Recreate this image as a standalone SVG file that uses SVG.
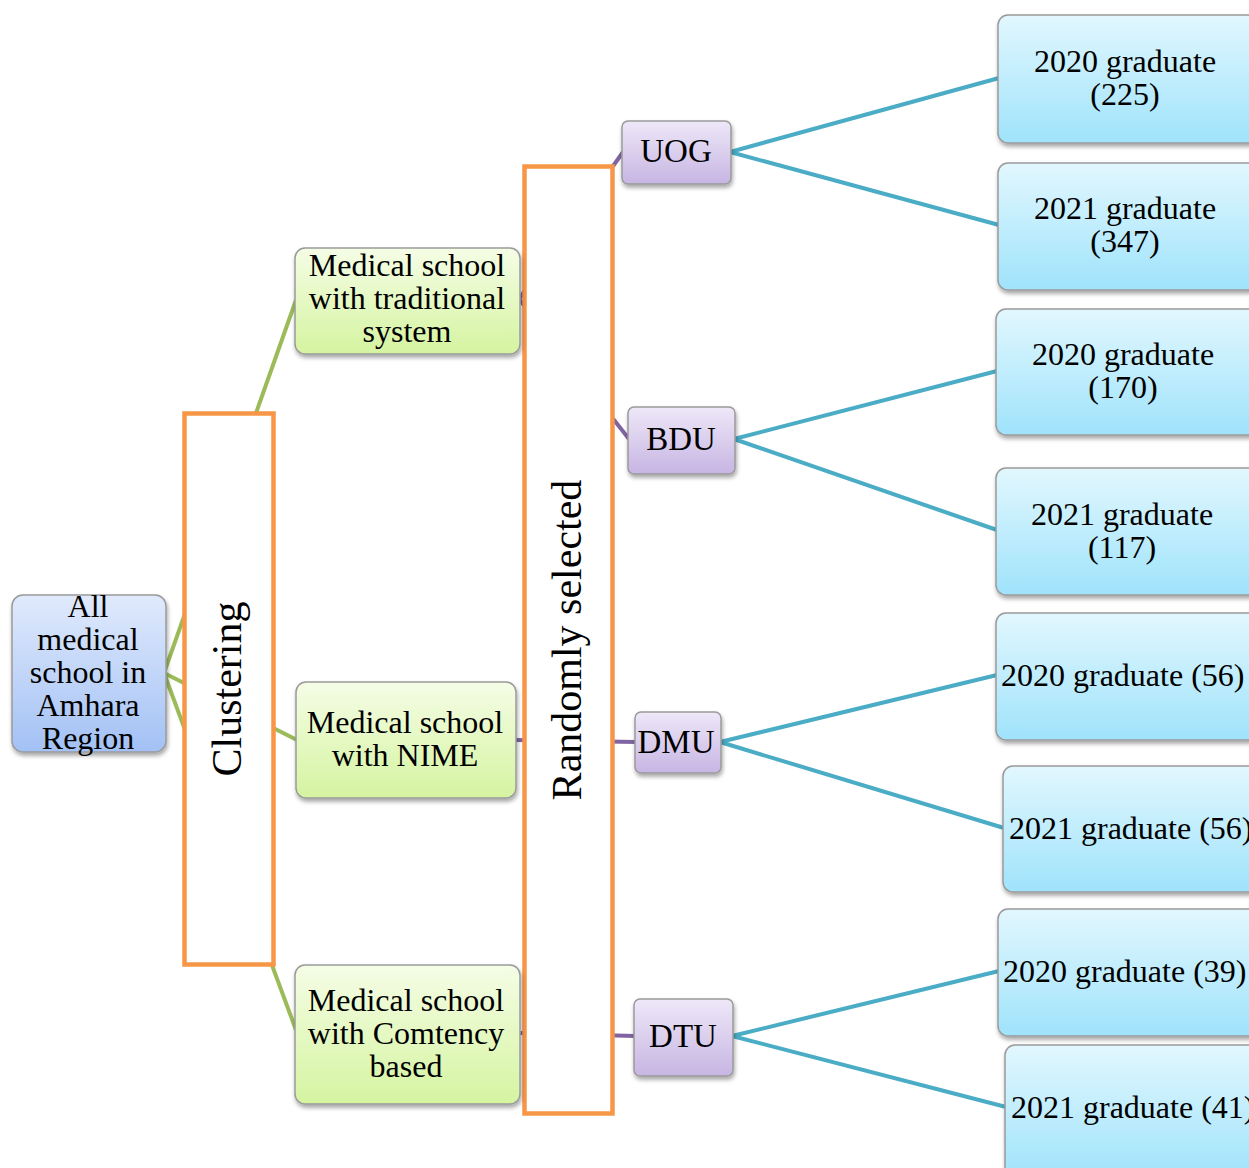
<svg xmlns="http://www.w3.org/2000/svg" width="1249" height="1168" viewBox="0 0 1249 1168">
<defs>
<linearGradient id="gBlue" x1="0" y1="0" x2="0" y2="1"><stop offset="0" stop-color="#e0eafc"/><stop offset="1" stop-color="#a3c1f5"/></linearGradient>
<linearGradient id="gGreen" x1="0" y1="0" x2="0" y2="1"><stop offset="0" stop-color="#f5fde6"/><stop offset="1" stop-color="#d5f4a0"/></linearGradient>
<linearGradient id="gPurple" x1="0" y1="0" x2="0" y2="1"><stop offset="0" stop-color="#eee8f8"/><stop offset="1" stop-color="#c7b5e3"/></linearGradient>
<linearGradient id="gCyan" x1="0" y1="0" x2="0" y2="1"><stop offset="0" stop-color="#e2f7fe"/><stop offset="1" stop-color="#9fe3fb"/></linearGradient>
<filter id="sh" x="-10%" y="-10%" width="130%" height="130%"><feDropShadow dx="1" dy="3" stdDeviation="2" flood-color="#000" flood-opacity="0.35"/></filter>
</defs>
<style>
text{font-family:"Liberation Serif","Times New Roman",serif;fill:#000}
.t{font-size:32px;text-anchor:middle}
.tl{font-size:32px}
.u{font-size:33px;text-anchor:middle}
.big{font-size:42px;text-anchor:middle}
.node{stroke:#9a9a9a;stroke-width:1.5;filter:url(#sh)}
.blue{fill:url(#gBlue)}
.green{fill:url(#gGreen)}
.purple{fill:url(#gPurple)}
.cyan{fill:url(#gCyan)}
.frame{fill:#fff;stroke:#f79646;stroke-width:4.5}
.lg{stroke:#9bbb59;stroke-width:4;fill:none}
.lp{stroke:#8064a2;stroke-width:4;fill:none}
.lc{stroke:#4bacc6;stroke-width:4;fill:none}
</style>
<rect width="1249" height="1168" fill="#fff"/>
<g id="connectors">
<line class="lg" x1="164" y1="673" x2="296" y2="300"/>
<line class="lg" x1="164" y1="673" x2="297" y2="740"/>
<line class="lg" x1="164" y1="673" x2="296" y2="1030"/>
<line class="lp" x1="519" y1="299" x2="623" y2="152"/>
<line class="lp" x1="519" y1="299" x2="629" y2="439"/>
<line class="lp" x1="515" y1="740" x2="636" y2="742"/>
<line class="lp" x1="519" y1="1033" x2="635" y2="1036"/>
<line class="lc" x1="730" y1="152" x2="999" y2="78"/>
<line class="lc" x1="730" y1="152" x2="999" y2="225"/>
<line class="lc" x1="734" y1="439" x2="997" y2="371"/>
<line class="lc" x1="734" y1="439" x2="997" y2="530"/>
<line class="lc" x1="720" y1="742" x2="997" y2="675"/>
<line class="lc" x1="720" y1="742" x2="1004" y2="828"/>
<line class="lc" x1="732" y1="1036" x2="999" y2="971"/>
<line class="lc" x1="732" y1="1036" x2="1006" y2="1107"/>
</g>
<g id="clustering">
<rect class="frame" x="184.5" y="413.5" width="89" height="551"/>
<text class="big" transform="translate(241,689) rotate(-90)">Clustering</text>
</g>
<g id="randomly">
<rect class="frame" x="524.5" y="166.5" width="88" height="947"/>
<text class="big" transform="translate(581,640) rotate(-90)">Randomly selected</text>
</g>
<g id="root">
<rect class="node blue" x="12" y="595" width="154" height="157" rx="11"/>
<text class="t" x="88" y="617">All</text>
<text class="t" x="88" y="650">medical</text>
<text class="t" x="88" y="683">school in</text>
<text class="t" x="88" y="716">Amhara</text>
<text class="t" x="88" y="749">Region</text>
</g>
<g id="traditional">
<rect class="node green" x="295" y="248" width="225" height="106" rx="10"/>
<text class="t" x="407" y="276">Medical school</text>
<text class="t" x="407" y="309">with traditional</text>
<text class="t" x="407" y="342">system</text>
</g>
<g id="nime">
<rect class="node green" x="296" y="682" width="220" height="116" rx="10"/>
<text class="t" x="405" y="733">Medical school</text>
<text class="t" x="405" y="766">with NIME</text>
</g>
<g id="competency">
<rect class="node green" x="295" y="965" width="225" height="139" rx="10"/>
<text class="t" x="406" y="1011">Medical school</text>
<text class="t" x="406" y="1044">with Comtency</text>
<text class="t" x="406" y="1077">based</text>
</g>
<g id="uog">
<rect class="node purple" x="622" y="121" width="109" height="63" rx="6"/>
<text class="u" x="676" y="162">UOG</text>
</g>
<g id="bdu">
<rect class="node purple" x="628" y="407" width="107" height="67" rx="6"/>
<text class="u" x="681" y="450">BDU</text>
</g>
<g id="dmu">
<rect class="node purple" x="635" y="712" width="86" height="61" rx="6"/>
<text class="u" x="676" y="753">DMU</text>
</g>
<g id="dtu">
<rect class="node purple" x="634" y="999" width="99" height="77" rx="6"/>
<text class="u" x="683" y="1047">DTU</text>
</g>
<g id="uog2020">
<rect class="node cyan" x="998" y="15" width="260" height="128" rx="10"/>
<text class="t" x="1125" y="72">2020 graduate</text>
<text class="t" x="1125" y="105">(225)</text>
</g>
<g id="uog2021">
<rect class="node cyan" x="998" y="163" width="260" height="127" rx="10"/>
<text class="t" x="1125" y="219">2021 graduate</text>
<text class="t" x="1125" y="252">(347)</text>
</g>
<g id="bdu2020">
<rect class="node cyan" x="996" y="309" width="262" height="126" rx="10"/>
<text class="t" x="1123" y="365">2020 graduate</text>
<text class="t" x="1123" y="398">(170)</text>
</g>
<g id="bdu2021">
<rect class="node cyan" x="996" y="468" width="262" height="127" rx="10"/>
<text class="t" x="1122" y="525">2021 graduate</text>
<text class="t" x="1122" y="558">(117)</text>
</g>
<g id="dmu2020">
<rect class="node cyan" x="996" y="613" width="262" height="127" rx="10"/>
<text class="tl" x="1001" y="686">2020 graduate (56)</text>
</g>
<g id="dmu2021">
<rect class="node cyan" x="1003" y="766" width="262" height="126" rx="10"/>
<text class="tl" x="1009" y="839">2021 graduate (56)</text>
</g>
<g id="dtu2020">
<rect class="node cyan" x="998" y="909" width="262" height="127" rx="10"/>
<text class="tl" x="1003" y="982">2020 graduate (39)</text>
</g>
<g id="dtu2021">
<rect class="node cyan" x="1005" y="1045" width="262" height="135" rx="10"/>
<text class="tl" x="1011" y="1118">2021 graduate (41)</text>
</g>
</svg>
